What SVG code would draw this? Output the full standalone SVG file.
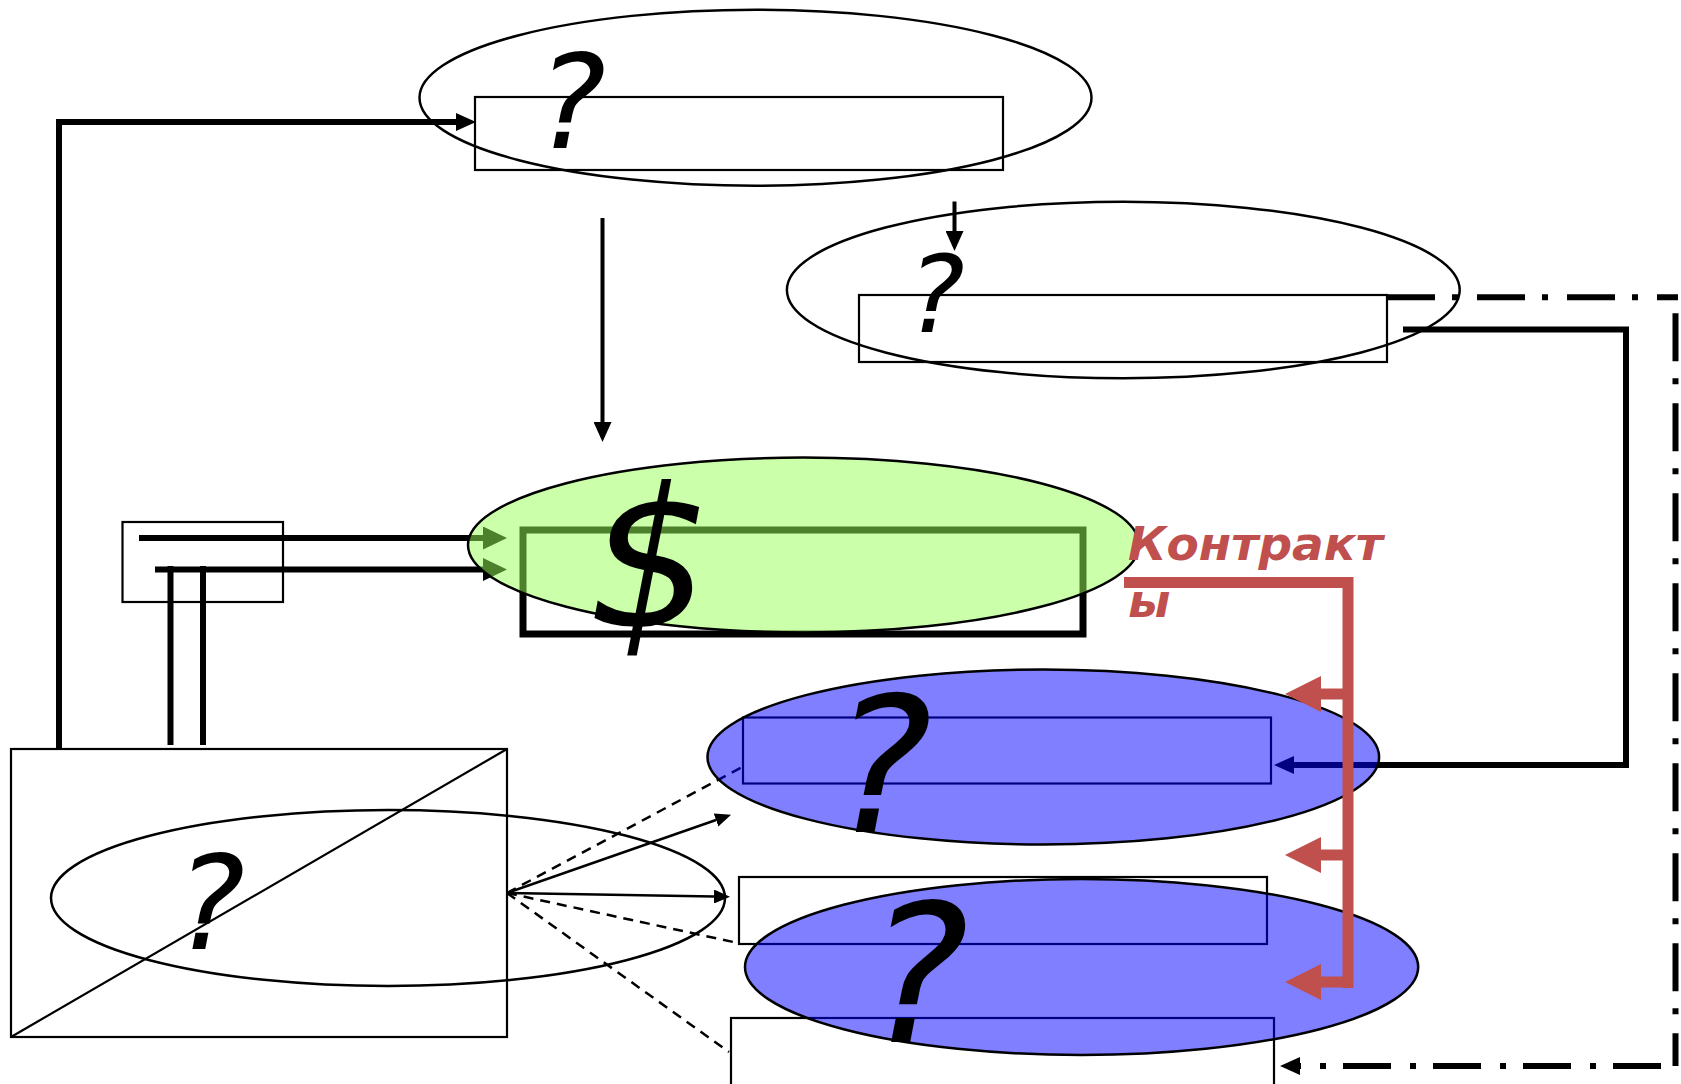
<svg xmlns="http://www.w3.org/2000/svg" width="1681" height="1084" viewBox="0 0 1681 1084">
<defs>
<style>
.ell{fill:none;stroke:#000;stroke-width:2.5}
.box{fill:none;stroke:#000;stroke-width:2.2}
.blue{fill:#0000FF;fill-opacity:0.5;stroke:#000;stroke-width:2.5}
.green{fill:#99FF55;fill-opacity:0.5;stroke:#000;stroke-width:2.5}
.q{font-family:"DejaVu Sans","Liberation Sans",sans-serif;font-style:oblique;fill:#000}
.thick{fill:none;stroke:#000;stroke-width:6}
.med{fill:none;stroke:#000;stroke-width:4}
.thin{fill:none;stroke:#000;stroke-width:2.5}
.dash{fill:none;stroke:#000;stroke-width:2.5;stroke-dasharray:10 7}
.dashdot{fill:none;stroke:#000;stroke-width:6;stroke-dasharray:48 17 6 19}
.red{fill:none;stroke:#C0504D;stroke-width:11}
.lbl{font-family:"DejaVu Sans","Liberation Sans",sans-serif;font-weight:bold;font-style:oblique;fill:#C0504D;font-size:47px}
</style>
<marker id="ah" markerUnits="userSpaceOnUse" markerWidth="20" markerHeight="18" viewBox="0 -9 20 18" refX="0" refY="0" orient="auto"><path d="M0,-9 L20,0 L0,9 z" fill="#000"/></marker>
<marker id="ahw" markerUnits="userSpaceOnUse" markerWidth="24" markerHeight="23" viewBox="0 -11.5 24 23" refX="0" refY="0" orient="auto"><path d="M0,-11.5 L24,0 L0,11.5 z" fill="#000"/></marker>
<marker id="aht" markerUnits="userSpaceOnUse" markerWidth="16" markerHeight="14" viewBox="0 -7 16 14" refX="0" refY="0" orient="auto"><path d="M0,-7 L16,0 L0,7 z" fill="#000"/></marker>
<marker id="ahr" markerUnits="userSpaceOnUse" markerWidth="36" markerHeight="36" viewBox="0 -18 36 36" refX="0" refY="0" orient="auto"><path d="M0,-18 L36,0 L0,18 z" fill="#C0504D"/></marker>
</defs>
<rect width="1681" height="1084" fill="#fff"/>

<g id="connectors">
<path class="thick" d="M59,749 V122 H456" marker-end="url(#ah)"/>
<path class="med" d="M602.5,218 V422" marker-end="url(#ah)"/>
<path class="med" d="M954.5,201.5 V231" marker-end="url(#ah)"/>
<path class="thick" d="M139,538 H483" marker-end="url(#ahw)"/>
<path class="thick" d="M155,569.5 H483" marker-end="url(#ahw)"/>
<path class="thick" d="M170.5,566 V745"/>
<path class="thick" d="M203,566 V745"/>
<path class="thick" d="M1403,329.5 H1626 V765 H1294" stroke-width="5" marker-end="url(#ah)"/>
<path class="dashdot" d="M1387,297.3 H1678"/>
<path class="dashdot" d="M1675.5,297.3 V1066" style="stroke-dashoffset:74"/>
<path class="dashdot" d="M1678,1066 H1300" style="stroke-dashoffset:73" marker-end="url(#ah)"/>
<path class="thin" d="M507,893 L716,820" marker-end="url(#aht)"/>
<path class="thin" d="M507,893 L714,896.5" marker-end="url(#aht)"/>
<path class="dash" d="M507,893 L746,765"/>
<path class="dash" d="M507,893 L738,943"/>
<path class="dash" d="M507,893 L729,1052"/>
</g>

<g id="node-top">
<ellipse class="ell" cx="755.5" cy="97.7" rx="336" ry="88"/>
<rect class="box" x="475" y="97" width="528" height="73"/>
<text class="q" x="537" y="148" font-size="130">?</text>
</g>

<g id="node-second">
<ellipse class="ell" cx="1123.3" cy="290" rx="336.4" ry="88.3"/>
<rect class="box" x="859" y="295" width="528" height="67"/>
<text class="q" x="908" y="332" font-size="107">?</text>
</g>

<g id="node-source">
<rect class="box" x="122.5" y="522" width="160.5" height="80"/>
</g>

<g id="node-money">
<rect x="523" y="530" width="560" height="104" fill="none" stroke="#000" stroke-width="7"/>
<ellipse class="green" cx="803.5" cy="545" rx="335.5" ry="87.4"/>
<text class="q" x="588" y="627" font-size="195">$</text>
</g>

<g id="node-left">
<rect class="box" x="11" y="749" width="496" height="288"/>
<line x1="11" y1="1037" x2="507" y2="749" stroke="#000" stroke-width="2.2"/>
<ellipse class="ell" cx="388" cy="898" rx="337" ry="88"/>
<text class="q" x="176" y="949" font-size="130">?</text>
</g>

<g id="node-blue1">
<rect class="box" x="743" y="717.5" width="528" height="66"/>
<ellipse class="blue" cx="1043.3" cy="757" rx="335.8" ry="87.5"/>
<text class="q" x="832" y="832" font-size="189">?</text>
</g>

<g id="node-r5">
<rect class="box" x="739" y="877" width="528" height="67"/>
</g>

<g id="node-r6">
<rect class="box" x="731" y="1018" width="543" height="100"/>
</g>

<g id="node-blue2">
<ellipse class="blue" cx="1081.6" cy="967" rx="336.6" ry="88"/>
<text class="q" x="867" y="1042" font-size="192">?</text>
</g>

<g id="connectors-contracts">
<path class="red" d="M1124,582.5 H1348"/>
<path class="red" d="M1348,577 V988"/>
<path class="red" d="M1348,694 H1321" marker-end="url(#ahr)"/>
<path class="red" d="M1348,855 H1321" marker-end="url(#ahr)"/>
<path class="red" d="M1348,982 H1321" marker-end="url(#ahr)"/>
</g>

<g id="node-contracts">
<text class="lbl" x="1128" y="560">Контракт<tspan x="1128" y="617">ы</tspan></text>
</g>
</svg>
